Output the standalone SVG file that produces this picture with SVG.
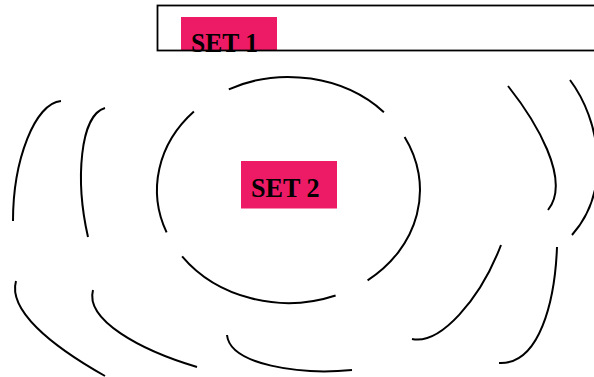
<svg xmlns="http://www.w3.org/2000/svg" width="594" height="377" viewBox="0 0 594 377">
<style>
.c{fill:none;stroke:#000;stroke-width:2;stroke-linecap:butt}
.box{fill:#ED1B66}
.lbl{font-family:"Liberation Serif","Times New Roman",serif;font-weight:bold;font-size:27.5px;fill:#000}
</style>
<rect width="594" height="377" fill="#fff"/>
<g id="set1">
<rect class="box" x="181" y="17" width="96" height="34"/>
<text class="lbl" x="191" y="52" textLength="67" lengthAdjust="spacingAndGlyphs">SET 1</text>
<rect x="157.5" y="5.5" width="450" height="45" fill="none" stroke="#000" stroke-width="1.8"/>
</g>
<g id="set2">
<rect class="box" x="241" y="161" width="96" height="47.5"/>
<text class="lbl" x="251" y="196.5" textLength="68.5" lengthAdjust="spacingAndGlyphs">SET 2</text>
</g>
<g id="connectors">
<path class="c" d="M228.8,89.3 A131.5,113 0 0 1 383.9,112.2"/>
<path class="c" d="M404.6,137 A131.5,113 0 0 1 367.6,280.3"/>
<path class="c" d="M335.6,295.5 A131.5,113 0 0 1 182.1,256.4"/>
<path class="c" d="M166.6,232.4 A131.5,113 0 0 1 193.9,111.5"/>
<path class="c" d="M61,101 C35,103 13,160 13,221"/>
<path class="c" d="M105,108 C80,115 75,180 88,237"/>
<path class="c" d="M16,281 C8,310 50,345 105,376"/>
<path class="c" d="M93,290 C85,320 140,350 197,367"/>
<path class="c" d="M227,335 C230,365 300,375 352,370"/>
<path class="c" d="M508,86 C535,120 572,180 548,210"/>
<path class="c" d="M570,80 C600,120 612,190 572,235"/>
<path class="c" d="M501,245 C480,300 440,345 412,339"/>
<path class="c" d="M557,247 C555,300 540,365 499,363"/>
</g>
</svg>
